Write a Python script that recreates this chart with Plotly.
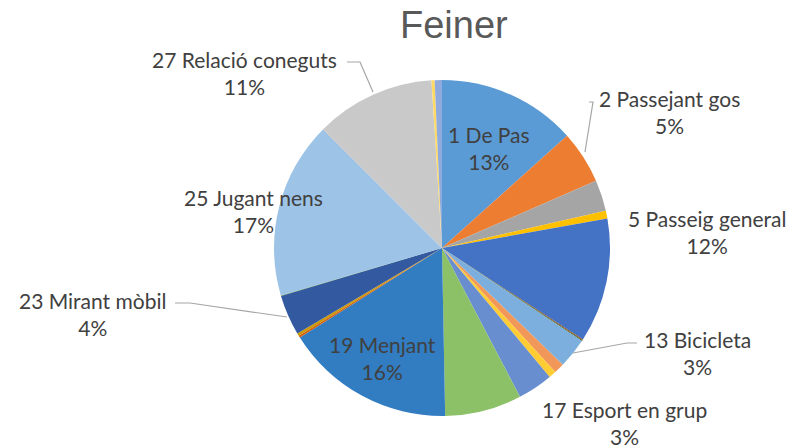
import plotly.graph_objects as go

# Category labels (29 categories, clockwise from 12 o'clock)
categories = [
    "1 De Pas", "2 Passejant gos", "3", "4", "5 Passeig general", "6", "7", "8",
    "9", "10", "11", "12", "13 Bicicleta", "14", "15", "16", "17 Esport en grup",
    "18", "19 Menjant", "20", "21", "22", "23 Mirant mòbil", "24", "25 Jugant nens",
    "26", "27 Relació coneguts", "28", "29",
]
# Shares (percent)
values = [
    13.4, 5.1, 3.0, 0.75, 12.0, 0.0, 0.0, 0.08,
    0.0, 0.0, 0.0, 0.1, 2.9, 1.0, 0.0, 0.7, 3.4,
    7.4, 16.4, 0.2, 0.0, 0.25, 3.9, 0.05, 17.1,
    0.03, 11.5, 0.3, 0.7,
]
colors = [
    "#5B9BD5", "#ED7D31", "#A5A5A5", "#FFC000", "#4472C4", "#70AD47", "#255E91", "#9E480E",
    "#636363", "#997300", "#264478", "#43682B", "#7CAFDD", "#F1975A", "#B7B7B7", "#FFCD33",
    "#698ED0", "#8CC168", "#327DC2", "#D26012", "#848484", "#CC9A00", "#335AA1", "#5A8A39",
    "#9DC3E6", "#F4B183", "#C9C9C9", "#FFD966", "#8FAADC",
]
# Labels that are shown, with their displayed percentages
shown_labels = ["1 De Pas", "2 Passejant gos", "5 Passeig general", "13 Bicicleta",
                "17 Esport en grup", "19 Menjant", "23 Mirant mòbil", "25 Jugant nens",
                "27 Relació coneguts"]
shown_pcts = ["13%", "5%", "12%", "3%", "3%", "16%", "4%", "17%", "11%"]

W, H = 793, 447

def px(x, y):
    return x / W, 1 - y / H

# label placement (pixel centres of first line)
label_pos = {
    "1 De Pas": (489, 133),
    "2 Passejant gos": (669, 97),
    "5 Passeig general": (707, 217),
    "13 Bicicleta": (697, 338),
    "17 Esport en grup": (624, 408),
    "19 Menjant": (382, 343),
    "23 Mirant mòbil": (92, 299),
    "25 Jugant nens": (253, 196),
    "27 Relació coneguts": (244, 58),
}

fig = go.Figure()
fig.add_trace(go.Pie(
    labels=categories, values=values, sort=False, direction="clockwise", rotation=0,
    marker=dict(colors=colors, line=dict(width=0)),
    textinfo="none", hoverinfo="label+percent", showlegend=False,
    domain=dict(x=[274 / W, 610 / W], y=[1 - 416 / H, 1 - 80 / H]),
))

annotations = []
for name, pct in zip(shown_labels, shown_pcts):
    cx, cy = label_pos[name]
    ax, ay = px(cx, cy + 14.5)
    annotations.append(dict(
        x=ax, y=ay, xref="paper", yref="paper", xanchor="center", yanchor="middle",
        text=f"{name}<br>{pct}", showarrow=False, align="center",
        font=dict(family="Lato, Carlito, sans-serif", size=21, color="#404040"),
    ))
annotations.append(dict(
    x=454 / W, y=1 - 25 / H, xref="paper", yref="paper", xanchor="center", yanchor="middle",
    text="Feiner", showarrow=False,
    font=dict(family="Liberation Sans, Arial, sans-serif", size=38, color="#595959"),
))

leaders = [
    [(347, 62), (360, 62), (373, 92)],
    [(589, 102), (593, 102), (585, 152)],
    [(637, 343), (627, 343), (573, 353)],
    [(175, 303), (190, 303), (287, 317)],
]
shapes = []
for pts in leaders:
    path = "M " + " L ".join(f"{x / W:.5f},{1 - y / H:.5f}" for x, y in pts)
    shapes.append(dict(type="path", path=path, xref="paper", yref="paper",
                       line=dict(color="#A6A6A6", width=1.2)))

fig.update_layout(
    width=W, height=H, margin=dict(l=0, r=0, t=0, b=0),
    paper_bgcolor="white", plot_bgcolor="white",
    annotations=annotations, shapes=shapes,
)
fig.write_html("out.html", config={"displayModeBar": False},
               post_script="document.body.style.margin='0';document.body.style.overflow='hidden';")
